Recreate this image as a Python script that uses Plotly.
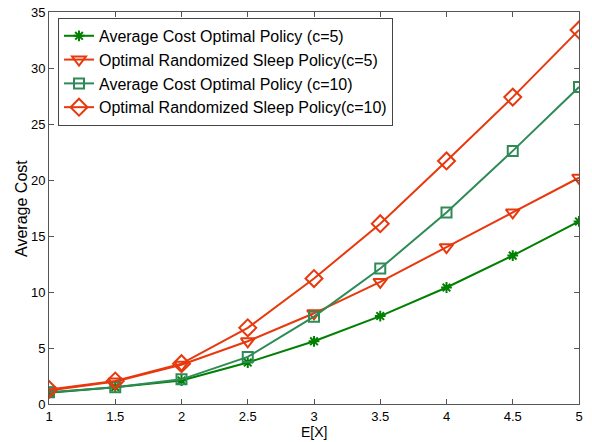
import plotly.graph_objects as go

ex = [1, 1.5, 2, 2.5, 3, 3.5, 4, 4.5, 5]
avg_c5 = [1.0, 1.5, 2.1, 3.7, 5.6, 7.85, 10.4, 13.25, 16.3]
rand_c5 = [1.2, 2.0, 3.5, 5.6, 8.1, 10.9, 14.0, 17.1, 20.2]
avg_c10 = [1.05, 1.5, 2.2, 4.2, 7.8, 12.1, 17.1, 22.6, 28.3]
rand_c10 = [1.3, 2.05, 3.6, 6.8, 11.2, 16.1, 21.7, 27.4, 33.4]

names = ["Average Cost Optimal Policy (c=5)",
         "Optimal Randomized Sleep Policy(c=5)",
         "Average Cost Optimal Policy (c=10)",
         "Optimal Randomized Sleep Policy(c=10)"]

GREEN = "#008000"
TEAL = "#2E8B57"
RED = "#E8380D"

series = [
    (avg_c5, GREEN, "asterisk-open", 9),
    (rand_c5, RED, "triangle-down-open", 12),
    (avg_c10, TEAL, "square-open", 10),
    (rand_c10, RED, "diamond-open", 13),
]

fig = go.Figure()
for (ys, col, sym, sz), nm in zip(series, names):
    fig.add_trace(go.Scatter(
        x=ex, y=ys, name=nm, mode="lines+markers",
        line=dict(color=col, width=2),
        marker=dict(symbol=sym, size=sz, color=col, line=dict(color=col, width=2)),
    ))

FONT = "Liberation Sans, Arial, sans-serif"
axis_common = dict(
    showgrid=False, zeroline=False, showline=True, linecolor="#555555", linewidth=1,
    mirror="ticks", ticks="inside", ticklen=5, tickcolor="#555555", automargin=False,
    tickfont=dict(family=FONT, size=13, color="#000000"),
)

fig.update_layout(
    width=592, height=442,
    margin=dict(l=49, r=13, t=12, b=38),
    plot_bgcolor="white", paper_bgcolor="white",
    font=dict(family=FONT, size=13, color="#000000"),
    xaxis=dict(range=[1, 5], tickvals=[1, 1.5, 2, 2.5, 3, 3.5, 4, 4.5, 5],
               ticktext=["1", "1.5", "2", "2.5", "3", "3.5", "4", "4.5", "5"],
               **axis_common),
    yaxis=dict(range=[0, 35], tickvals=[0, 5, 10, 15, 20, 25, 30, 35],
               **axis_common),
    legend=dict(x=0.017, y=0.985, xanchor="left", yanchor="top",
                bgcolor="white", bordercolor="#444444", borderwidth=1,
                font=dict(size=16), tracegroupgap=0, itemwidth=30),
    showlegend=True,
    annotations=[
        dict(text="E[X]", xref="paper", yref="paper", x=0.5, y=-0.097,
             xanchor="center", yanchor="bottom", showarrow=False,
             font=dict(family=FONT, size=14, color="#000000")),
        dict(text="Average Cost", xref="paper", yref="paper", x=-0.053, y=0.5,
             xanchor="center", yanchor="middle", textangle=-90, showarrow=False,
             font=dict(family=FONT, size=16, color="#000000")),
    ],
)

fig.write_html("out.html")
